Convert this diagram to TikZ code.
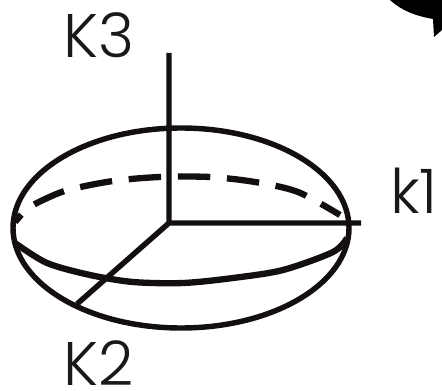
\documentclass[tikz,border=0pt]{standalone}
\usepackage{fontspec}
\setmainfont[UprightFont=* Light]{Poppins}
\begin{document}
\begin{tikzpicture}[x=0.02cm,y=-0.02cm,line join=round, line cap=butt, line width=3.1pt, color={rgb,255:red,20;green,15;blue,15},
		axislabel/.style={font=\fontsize{35}{35}\selectfont, inner sep=0pt, text=black!90}]
	\useasboundingbox (0,0) rectangle (442,391);
	\path
	(169,223) coordinate (O)
	(169,53) coordinate (K3)
	(361,223) coordinate (K1)
	(77,304) coordinate (K2)
	(181,228) coordinate (C)
	;
	% corner shape
	\fill[black] (390,0) .. controls (402,11) and (416,16) .. (433,19) -- (434,37) -- (442,30) -- (442,0) -- cycle;
	\draw (C) ellipse [x radius=168, y radius=100];
	\draw (K3)--(O)--(K1) (O)--(K2);
	\draw[line width=3.6pt] plot[smooth] coordinates {(15,243) (47,263) (90,275) (133,282) (183,283) (233,278) (283,270) (333,252) (347,238)};
	\draw[line width=3.6pt, dash pattern=on 18.5pt off 9.5pt, dash phase=13pt] plot[smooth] coordinates {(15,222) (27,209) (43,200) (68,190) (113,181) (160,177) (210,177) (255,182) (298,192) (340,215)};
	\node[axislabel] (k3) at (99,35) {K3};
	\node[axislabel] (k1) at (414,191) {k1};
	\node[axislabel] (k2) at (99,363) {K2};
\end{tikzpicture}
\end{document}
